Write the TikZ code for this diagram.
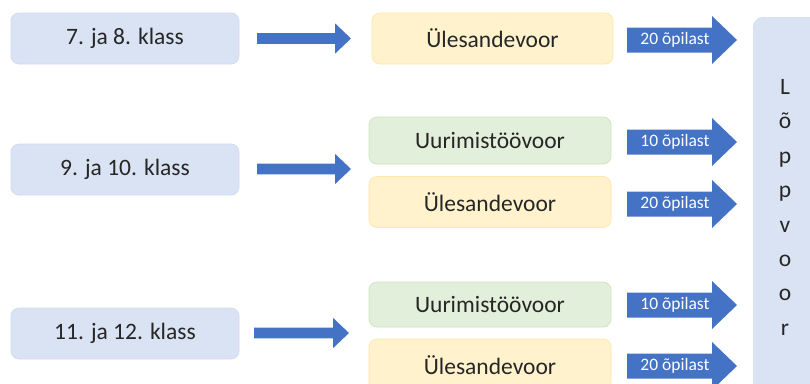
\documentclass[tikz,border=0pt]{standalone}
\usepackage{fontspec}
\setmainfont{Carlito}
\definecolor{bluefill}{HTML}{DAE3F3}
\definecolor{blueline}{HTML}{D0DCF0}
\definecolor{yelfill}{HTML}{FFF2CC}
\definecolor{yelline}{HTML}{FFE7A6}
\definecolor{grnfill}{HTML}{E2EFDA}
\definecolor{grnline}{HTML}{CDE4C0}
\definecolor{arrowblue}{HTML}{4472C4}
\newcommand\blkarrow[6]{% x0, xbase, xtip, y, half shaft, half head
  \fill[arrowblue] (#1,#4-#5) -- (#2,#4-#5) -- (#2,#4-#6) -- (#3,#4) -- (#2,#4+#6) -- (#2,#4+#5) -- (#1,#4+#5) -- cycle;}
\begin{document}
\begin{tikzpicture}[x=1pt,y=-1pt,
  box/.style={rectangle, rounded corners=8pt, line width=0.7pt, inner sep=0pt,
    font=\fontsize{23.5}{28}\selectfont, text=black!85},
  klass/.style={box, fill=bluefill, draw=blueline, minimum width=228pt, minimum height=51pt},
  ules/.style={box, fill=yelfill, draw=yelline, minimum width=242pt},
  uuri/.style={box, fill=grnfill, draw=grnline, minimum width=242pt},
  lbl/.style={text=white, font=\fontsize{17.5}{20}\selectfont, inner sep=0pt}]
\clip (0,0) rectangle (810,383);
\fill[white] (0,0) rectangle (810,383);
% left boxes
\node[klass] (k1) at (125,38.5) {7. ja 8. klass};
\node[klass] (k2) at (125,169.5) {9. ja 10. klass};
\node[klass] (k3) at (125,333.5) {11. ja 12. klass};
% middle boxes
\node[ules, minimum width=241pt, minimum height=51pt] (u1) at (492.5,38.5) {Ülesandevoor};
\node[uuri, minimum height=47pt] (r2) at (490,140.5) {Uurimistöövoor};
\node[ules, minimum height=51pt] (u2) at (490,202) {Ülesandevoor};
\node[uuri, minimum height=45pt] (r3) at (490,304.5) {Uurimistöövoor};
\node[ules, minimum height=52pt] (u3) at (490,365) {Ülesandevoor};
% final box
\node[rectangle, rounded corners=10pt, fill=bluefill, draw=blueline, line width=0.7pt,
  minimum width=80pt, minimum height=390pt, anchor=north west] (lv) at (753,17) {};
\node[font=\fontsize{23.5}{34.4}\selectfont, text=black!85, align=center, inner sep=0pt, anchor=base]
  (lvt) at (785,335.3) {L\\õ\\p\\p\\v\\o\\o\\r};
% left arrows
\blkarrow{257}{335}{351}{38.5}{5.4}{15.2}
\blkarrow{257}{335}{351}{169}{5.4}{15.2}
\blkarrow{254}{333}{349}{333}{5.4}{15.2}
% right arrows
\foreach \yy/\tt [count=\i] in {40/20 õpilast, 142/10 õpilast, 204/20 õpilast, 305/10 õpilast, 366/20 õpilast}{
  \blkarrow{627}{712}{737}{\yy}{12.5}{24}
  \node[lbl] (a\i) at (675,\yy) {\tt};
}
\end{tikzpicture}
\end{document}
